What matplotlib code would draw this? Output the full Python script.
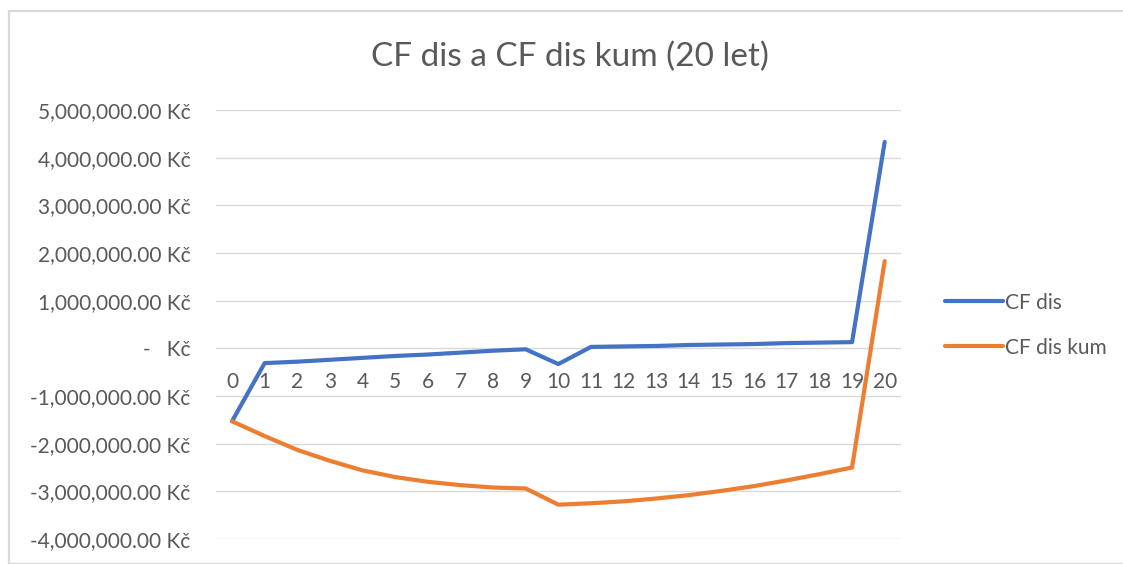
import matplotlib
matplotlib.use("Agg")
import matplotlib.pyplot as plt
from matplotlib.lines import Line2D
from matplotlib.patches import Rectangle
from matplotlib.ticker import FuncFormatter

YEARS = list(range(21))
CF_DIS = [-1530000, -310000, -280000, -240000, -200000, -160000, -130000, -90000,
          -50000, -20000, -330000, 30000, 40000, 50000, 70000, 80000, 90000,
          110000, 120000, 130000, 4330000]
CF_DIS_KUM = [-1530000, -1840000, -2130000, -2360000, -2560000, -2700000, -2800000,
              -2870000, -2920000, -2940000, -3280000, -3250000, -3210000, -3150000,
              -3080000, -2990000, -2890000, -2770000, -2640000, -2500000, 1830000]
SERIES_NAMES = ["CF dis", "CF dis kum"]
TITLE = "CF dis a CF dis kum (20 let)"

BLUE = "#4472C4"
ORANGE = "#ED7D31"
TEXT = "#595959"
GRID = "#D9D9D9"

plt.rcParams["font.family"] = ["Lato", "DejaVu Sans"]


def kc_format(v, pos):
    if abs(v) < 1:
        return "-   Kč"
    return f"{v:,.2f} Kč"


W, H = 1123, 564
fig = plt.figure(figsize=(W / 100, H / 100), dpi=100)
fig.patches.append(Rectangle((9 / W, 0), 1.0, 1 - 11 / H, transform=fig.transFigure,
                             fill=False, edgecolor=GRID, linewidth=1.6))

ax = fig.add_axes([215.7 / W, 1 - 539 / H, (901 - 215.7) / W, (539 - 110) / H])
ax.plot(YEARS, CF_DIS, color=BLUE, linewidth=3, solid_capstyle="round",
        solid_joinstyle="round", zorder=3)
ax.plot(YEARS, CF_DIS_KUM, color=ORANGE, linewidth=3, solid_capstyle="round",
        solid_joinstyle="round", zorder=4)

ax.set_xlim(-0.5, 20.5)
ax.set_ylim(-4000000, 5000000)
ax.set_yticks(range(-4000000, 5000001, 1000000))
ax.yaxis.set_major_formatter(FuncFormatter(kc_format))
ax.grid(axis="y", color=GRID, linewidth=1)
ax.set_axisbelow(True)
for s in ax.spines.values():
    s.set_visible(False)
ax.tick_params(axis="y", length=0, pad=18, labelsize=15, labelcolor=TEXT)
ax.set_xticks([])

# category labels sit just under the zero line
for x in YEARS:
    ax.annotate(str(x), (x, 0), xytext=(0, -24), textcoords="offset points",
                ha="center", va="center", fontsize=15, color=TEXT)

fig.text(570 / W, 1 - 57 / H, TITLE, ha="center", va="center", fontsize=24,
         color=TEXT)

handles = [Line2D([0], [0], color=BLUE, linewidth=3, solid_capstyle="round"),
           Line2D([0], [0], color=ORANGE, linewidth=3, solid_capstyle="round")]
fig.legend(handles, SERIES_NAMES, loc="center left",
           bbox_to_anchor=(926 / W, 1 - 325 / H), frameon=False, fontsize=15,
           labelcolor=TEXT, handlelength=2.8, handletextpad=0.1, labelspacing=1.2)

fig.savefig("out.png", dpi=100)
